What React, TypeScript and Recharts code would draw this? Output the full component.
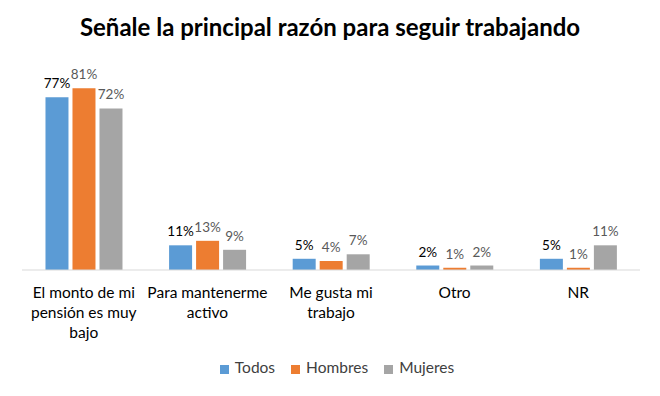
import React from "react";
import { BarChart, Bar, XAxis, YAxis, Legend, LabelList } from "recharts";

const categories = [
  "El monto de mi pensión es muy bajo",
  "Para mantenerme activo",
  "Me gusta mi trabajo",
  "Otro",
  "NR",
];
const todos = [77, 11, 5, 2, 5];
const hombres = [81, 13, 4, 1, 1];
const mujeres = [72, 9, 7, 2, 11];

const data = categories.map((c, i) => ({
  name: c,
  Todos: todos[i],
  Hombres: hombres[i],
  Mujeres: mujeres[i],
}));

const FONT = "Lato, 'Open Sans', sans-serif";

// wrap category names roughly like Excel does
function wrap(text: string, max = 15) {
  const words = text.split(" ");
  const lines: string[] = [];
  let cur = "";
  for (const w of words) {
    if (cur && (cur + " " + w).length > max) {
      lines.push(cur);
      cur = w;
    } else {
      cur = cur ? cur + " " + w : w;
    }
  }
  if (cur) lines.push(cur);
  return lines;
}

const CategoryTick = (props: any) => {
  const { x, y, payload } = props;
  const lines = wrap(payload.value);
  return (
    <g transform={`translate(${x},${y})`}>
      {lines.map((l, i) => (
        <text
          key={i}
          x={0}
          y={20 + i * 20}
          textAnchor="middle"
          fill="#000"
          fontSize={15.5}
          fontFamily={FONT}
        >
          {l}
        </text>
      ))}
    </g>
  );
};

const pct = (v: any) => `${v}%`;

export default function App() {
  return (
    <div style={{ position: "absolute", left: 0, top: 0, width: 660, height: 396, background: "#fff" }}>
      <div
        style={{
          position: "absolute",
          top: 12,
          width: 660,
          textAlign: "center",
          fontFamily: FONT,
          fontWeight: 700,
          fontSize: 24,
          color: "#000",
        }}
      >
        Señale la principal razón para seguir trabajando
      </div>
      <BarChart
        width={660}
        height={396}
        data={data}
        margin={{ top: 68, right: 20, left: 22, bottom: 0 }}
        barCategoryGap="19%"
        barGap={4}
      >
        <XAxis
          dataKey="name"
          tick={<CategoryTick />}
          tickLine={false}
          axisLine={{ stroke: "#d9d9d9" }}
          interval={0}
          height={86}
        />
        <YAxis hide domain={[0, 90]} />
        <Legend
          verticalAlign="bottom"
          iconType="square"
          iconSize={9}
          height={40}
          itemSorter={null as any}
          wrapperStyle={{ fontFamily: FONT, fontSize: 15.5, color: "#404040", top: 358, left: 36 }}
          formatter={(v: any) => <span style={{ color: "#404040", marginLeft: 2, marginRight: 6 }}>{v}</span>}
        />
        <Bar dataKey="Todos" fill="#5B9BD5" isAnimationActive={false}>
          <LabelList dataKey="Todos" position="top" offset={9} formatter={pct} fill="#000" fontSize={13.5} fontFamily={FONT} />
        </Bar>
        <Bar dataKey="Hombres" fill="#ED7D31" isAnimationActive={false}>
          <LabelList dataKey="Hombres" position="top" offset={9} formatter={pct} fill="#595959" fontSize={13.5} fontFamily={FONT} />
        </Bar>
        <Bar dataKey="Mujeres" fill="#A5A5A5" isAnimationActive={false}>
          <LabelList dataKey="Mujeres" position="top" offset={9} formatter={pct} fill="#595959" fontSize={13.5} fontFamily={FONT} />
        </Bar>
      </BarChart>
    </div>
  );
}
